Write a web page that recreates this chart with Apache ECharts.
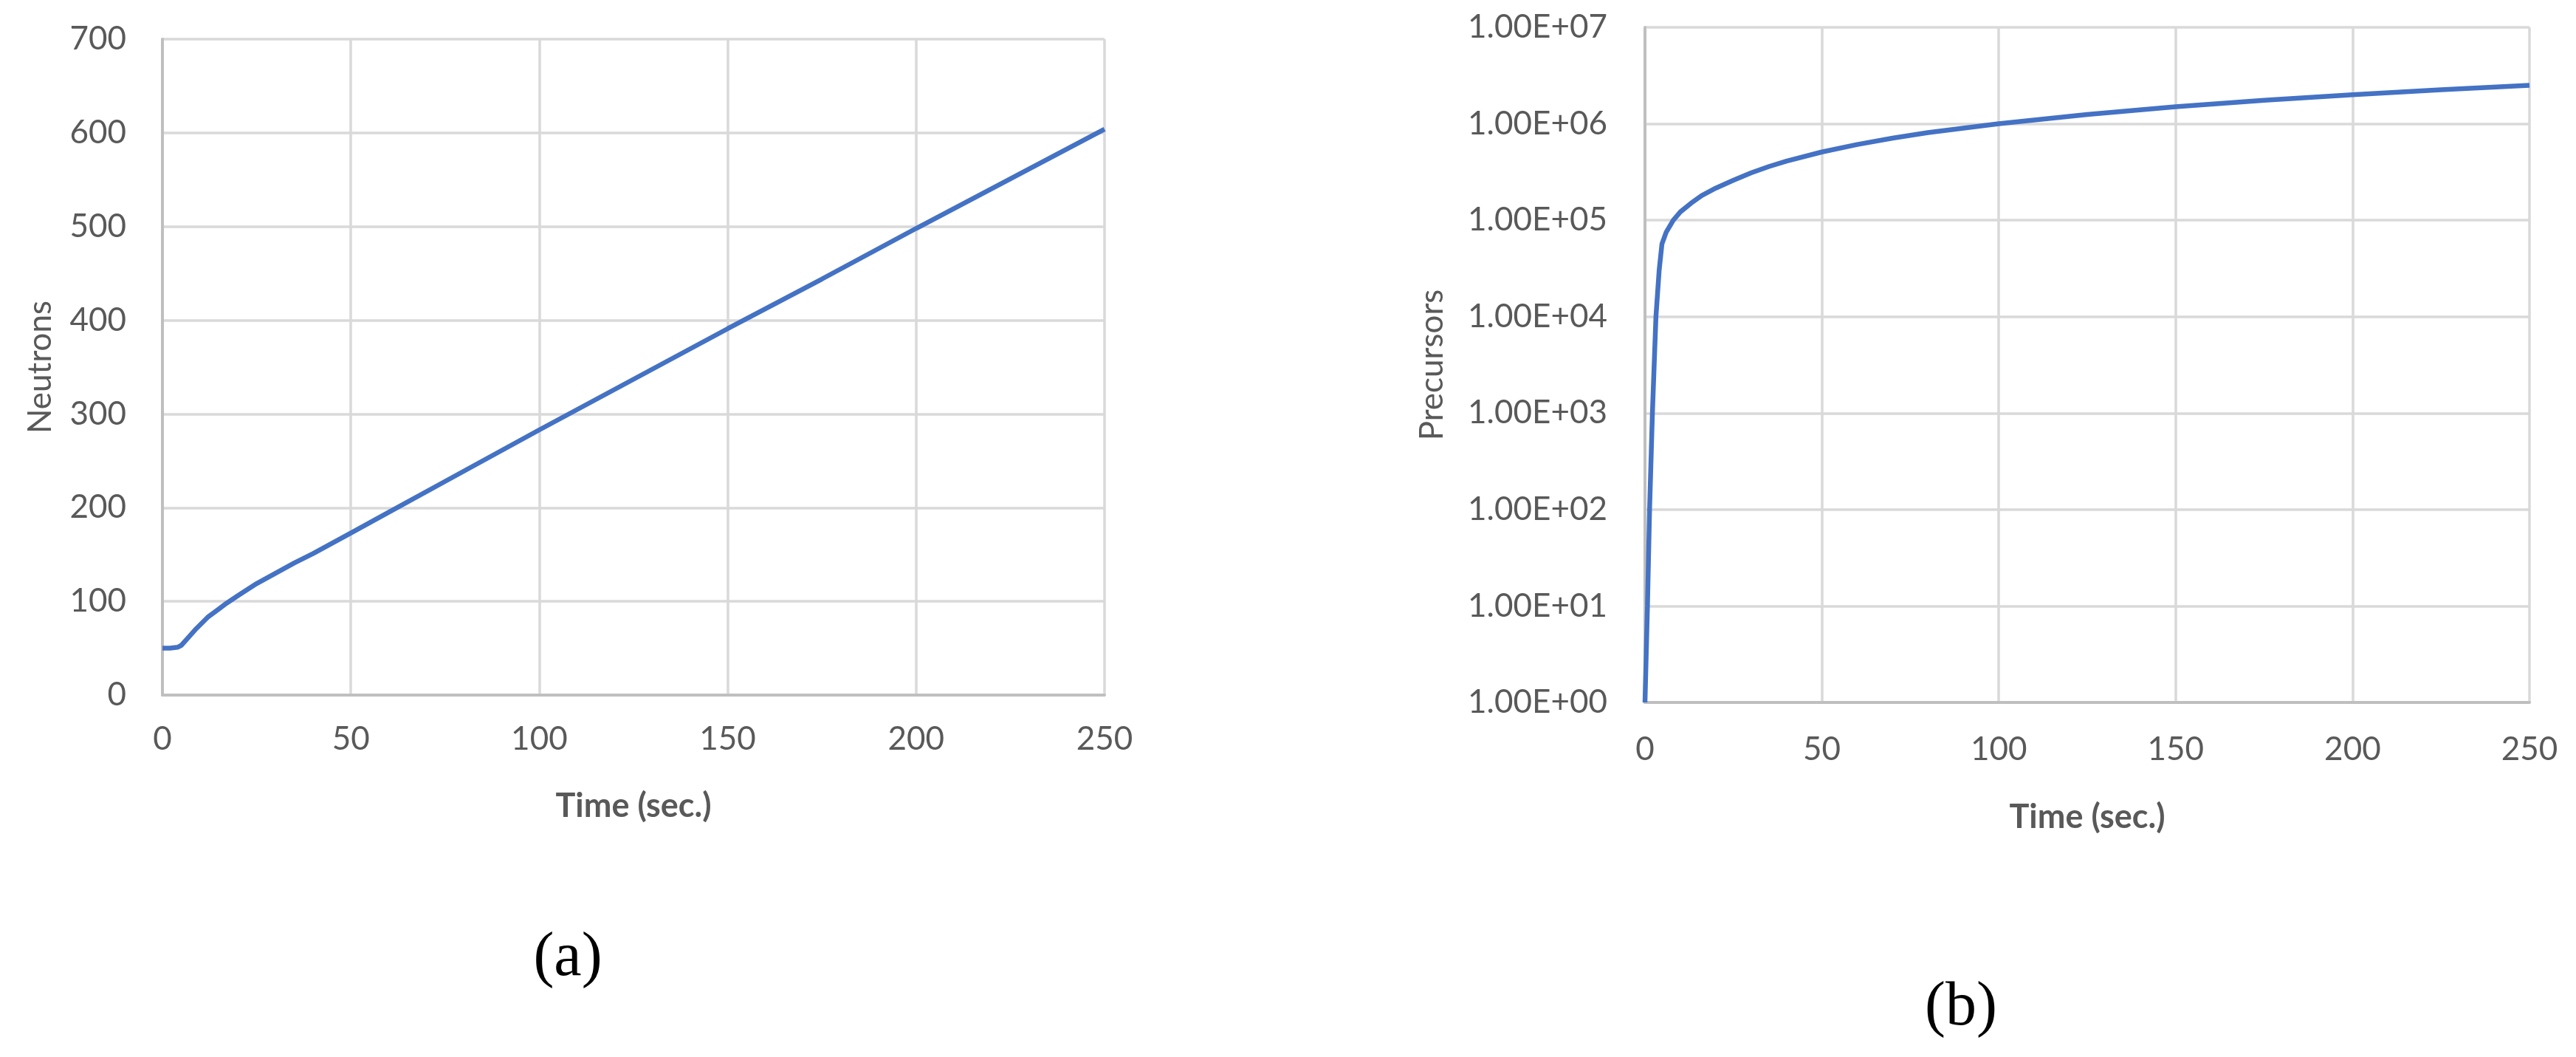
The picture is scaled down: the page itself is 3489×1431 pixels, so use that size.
<!DOCTYPE html>
<html>
<head>
<meta charset="utf-8">
<script src="https://cdn.jsdelivr.net/npm/echarts@6/dist/echarts.min.js"></script>
<style>
html,body{margin:0;padding:0;background:#fff;}
#c{width:3489px;height:1431px;}
</style>
</head>
<body>
<div id="c"></div>
<script>
// Panel (a): neutrons vs time
const timeA = [0, 2, 4, 5, 7, 9, 12, 15, 17, 20, 25, 30, 35, 40, 50, 60, 75, 100, 125, 150, 175, 200, 225, 250];
const neutrons = [50, 50, 51, 53, 62, 71, 83, 92, 98, 106, 119, 130, 141, 151, 173, 195, 228, 283, 337, 391, 444, 498, 551, 604];
const yTicksA = [0, 100, 200, 300, 400, 500, 600, 700];

// Panel (b): precursors vs time (log scale)
const timeB = [0, 0.7, 1.3, 2.1, 3.1, 4.0, 4.8, 6, 8, 10, 13, 16, 20, 25, 30, 35, 40, 50, 60, 70, 80, 100, 125, 150, 175, 200, 225, 250];
const precursors = [1, 10, 100, 1000, 10000, 30000, 57000, 75000, 100000, 122000, 150000, 180000, 215000, 260000, 310000, 360000, 410000, 510000, 610000, 710000, 810000, 1000000, 1250000, 1500000, 1750000, 2000000, 2250000, 2500000];
const yTicksB = ["1.00E+00","1.00E+01","1.00E+02","1.00E+03","1.00E+04","1.00E+05","1.00E+06","1.00E+07"];
const xTicks = [0, 50, 100, 150, 200, 250];

const FONT = 'Lato, "Open Sans", sans-serif';
const TXT = '#595959';
const GRID = '#d9d9d9';
const AXIS = '#bfbfbf';
const LINE = '#4472c4';

const chart = echarts.init(document.getElementById('c'), null, {renderer: 'canvas'});

function xAxisCfg(gridIndex, margin, nameGap) {
  return {
    type: 'value', gridIndex: gridIndex, min: 0, max: 250, interval: 50,
    name: 'Time (sec.)', nameLocation: 'middle', nameGap: nameGap,
    nameTextStyle: {fontFamily: FONT, fontSize: 45, fontWeight: 'bold', color: TXT},
    axisLine: {show: true, lineStyle: {color: AXIS, width: 4}},
    axisTick: {show: false},
    axisLabel: {fontFamily: FONT, fontSize: 44, color: TXT, margin: margin,
      formatter: v => xTicks.includes(v) ? String(v) : ''},
    splitLine: {show: true, lineStyle: {color: GRID, width: 3.5}}
  };
}

const option = {
  animation: false,
  backgroundColor: '#fff',
  grid: [
    {left: 220, top: 53, width: 1276, height: 888, containLabel: false},
    {left: 2228, top: 37, width: 1198, height: 914, containLabel: false}
  ],
  xAxis: [xAxisCfg(0, 38, 128), xAxisCfg(1, 42, 133)],
  yAxis: [
    {
      type: 'value', gridIndex: 0, min: 0, max: 700, interval: 100,
      name: 'Neutrons', nameLocation: 'middle', nameGap: 143,
      nameTextStyle: {fontFamily: FONT, fontSize: 44, color: TXT},
      axisLine: {show: true, lineStyle: {color: AXIS, width: 4}},
      axisTick: {show: false},
      axisLabel: {fontFamily: FONT, fontSize: 44, color: TXT, margin: 49,
        formatter: v => yTicksA.includes(v) ? String(v) : ''},
      splitLine: {show: true, lineStyle: {color: GRID, width: 3.5}}
    },
    {
      type: 'log', gridIndex: 1, logBase: 10, min: 1, max: 1e7,
      name: 'Precursors', nameLocation: 'middle', nameGap: 266,
      nameTextStyle: {fontFamily: FONT, fontSize: 44, color: TXT},
      axisLine: {show: true, lineStyle: {color: AXIS, width: 4}},
      axisTick: {show: false},
      axisLabel: {fontFamily: FONT, fontSize: 44, color: TXT, margin: 51,
        formatter: v => { const e = Math.round(Math.log10(v)); return yTicksB[e] || ''; }},
      splitLine: {show: true, lineStyle: {color: GRID, width: 3.5}}
    }
  ],
  series: [
    {
      type: 'line', xAxisIndex: 0, yAxisIndex: 0, showSymbol: false, smooth: false,
      lineStyle: {color: LINE, width: 6.5}, itemStyle: {color: LINE},
      data: timeA.map((t, i) => [t, neutrons[i]])
    },
    {
      type: 'line', xAxisIndex: 1, yAxisIndex: 1, showSymbol: false, smooth: false,
      lineStyle: {color: LINE, width: 6.5}, itemStyle: {color: LINE},
      data: timeB.map((t, i) => [t, precursors[i]])
    }
  ],
  graphic: [
    {type: 'text', x: 769, y: 1298, style: {text: '(a)', fontFamily: '"Liberation Serif", "DejaVu Serif", serif', fontSize: 84, fill: '#000', textAlign: 'center', textVerticalAlign: 'middle'}},
    {type: 'text', x: 2656, y: 1365, style: {text: '(b)', fontFamily: '"Liberation Serif", "DejaVu Serif", serif', fontSize: 84, fill: '#000', textAlign: 'center', textVerticalAlign: 'middle'}}
  ]
};
chart.setOption(option);
</script>
</body>
</html>
